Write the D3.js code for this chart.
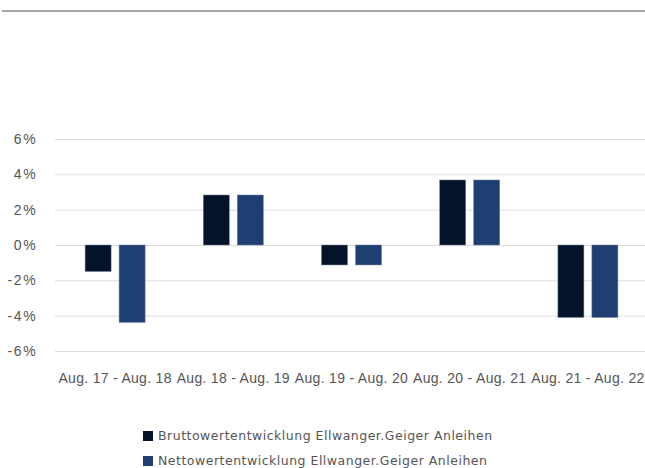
<!DOCTYPE html>
<html><head><meta charset="utf-8">
<script src="https://cdn.jsdelivr.net/npm/d3@7"></script>
<style>body{margin:0;background:#fff}svg{display:block;font-family:"DejaVu Sans",sans-serif}</style>
</head><body><svg id="c" width="645" height="468"></svg>
<script>
const categories=["Aug. 17 - Aug. 18","Aug. 18 - Aug. 19","Aug. 19 - Aug. 20","Aug. 20 - Aug. 21","Aug. 21 - Aug. 22"];
const brutto=[-1.5,2.83,-1.13,3.68,-4.1];
const netto=[-4.38,2.83,-1.13,3.68,-4.1];
const seriesNames=["Bruttowertentwicklung Ellwanger.Geiger Anleihen","Nettowertentwicklung Ellwanger.Geiger Anleihen"];
const colors=["#041329","#1f3f73"];
const yTicks=[-6,-4,-2,0,2,4,6];

const svg=d3.select("#c");
svg.append("line").attr("x1",2).attr("x2",645).attr("y1",11).attr("y2",11).attr("stroke","#8a8a8a").attr("stroke-width",1.5);

const x=d3.scaleBand().domain(categories).range([56,647]);
const y=d3.scaleLinear().domain([-6,6]).range([351,139]);

const gy=svg.append("g").attr("transform","translate(55,0)")
 .call(d3.axisLeft(y).tickValues(yTicks).tickFormat(d=>d+"%").tickSize(-590).tickPadding(17.5));
gy.select(".domain").remove();
gy.selectAll(".tick line").attr("stroke","#dcdcdc").attr("stroke-width",1);
gy.selectAll(".tick text").attr("fill","#555").style("font-size","14px").style("letter-spacing","1.7px");

const gx=svg.append("g").attr("transform","translate(0,351)")
 .call(d3.axisBottom(x).tickSize(0).tickPadding(22));
gx.select(".domain").remove();
gx.selectAll(".tick text").attr("fill","#555").style("font-size","14px").style("letter-spacing","0.3px");

const series=[brutto,netto];
series.forEach((vals,si)=>{
  svg.append("g").selectAll("rect").data(vals).join("rect")
   .attr("x",(d,i)=>x(categories[i])+x.bandwidth()/2-30+si*34)
   .attr("width",26)
   .attr("y",d=>y(Math.max(0,d)))
   .attr("height",d=>Math.abs(y(d)-y(0)))
   .attr("fill",colors[si]).attr("stroke","#6f7f99").attr("stroke-width",0.5);
});

const lg=svg.append("g");
seriesNames.forEach((n,i)=>{
  lg.append("rect").attr("x",143).attr("y",431+i*25).attr("width",10).attr("height",10).attr("fill",colors[i]);
  lg.append("text").attr("x",158).attr("y",440+i*25).text(n).attr("fill","#555").style("font-size","12.5px").style("letter-spacing","0.5px");
});
</script></body></html>
